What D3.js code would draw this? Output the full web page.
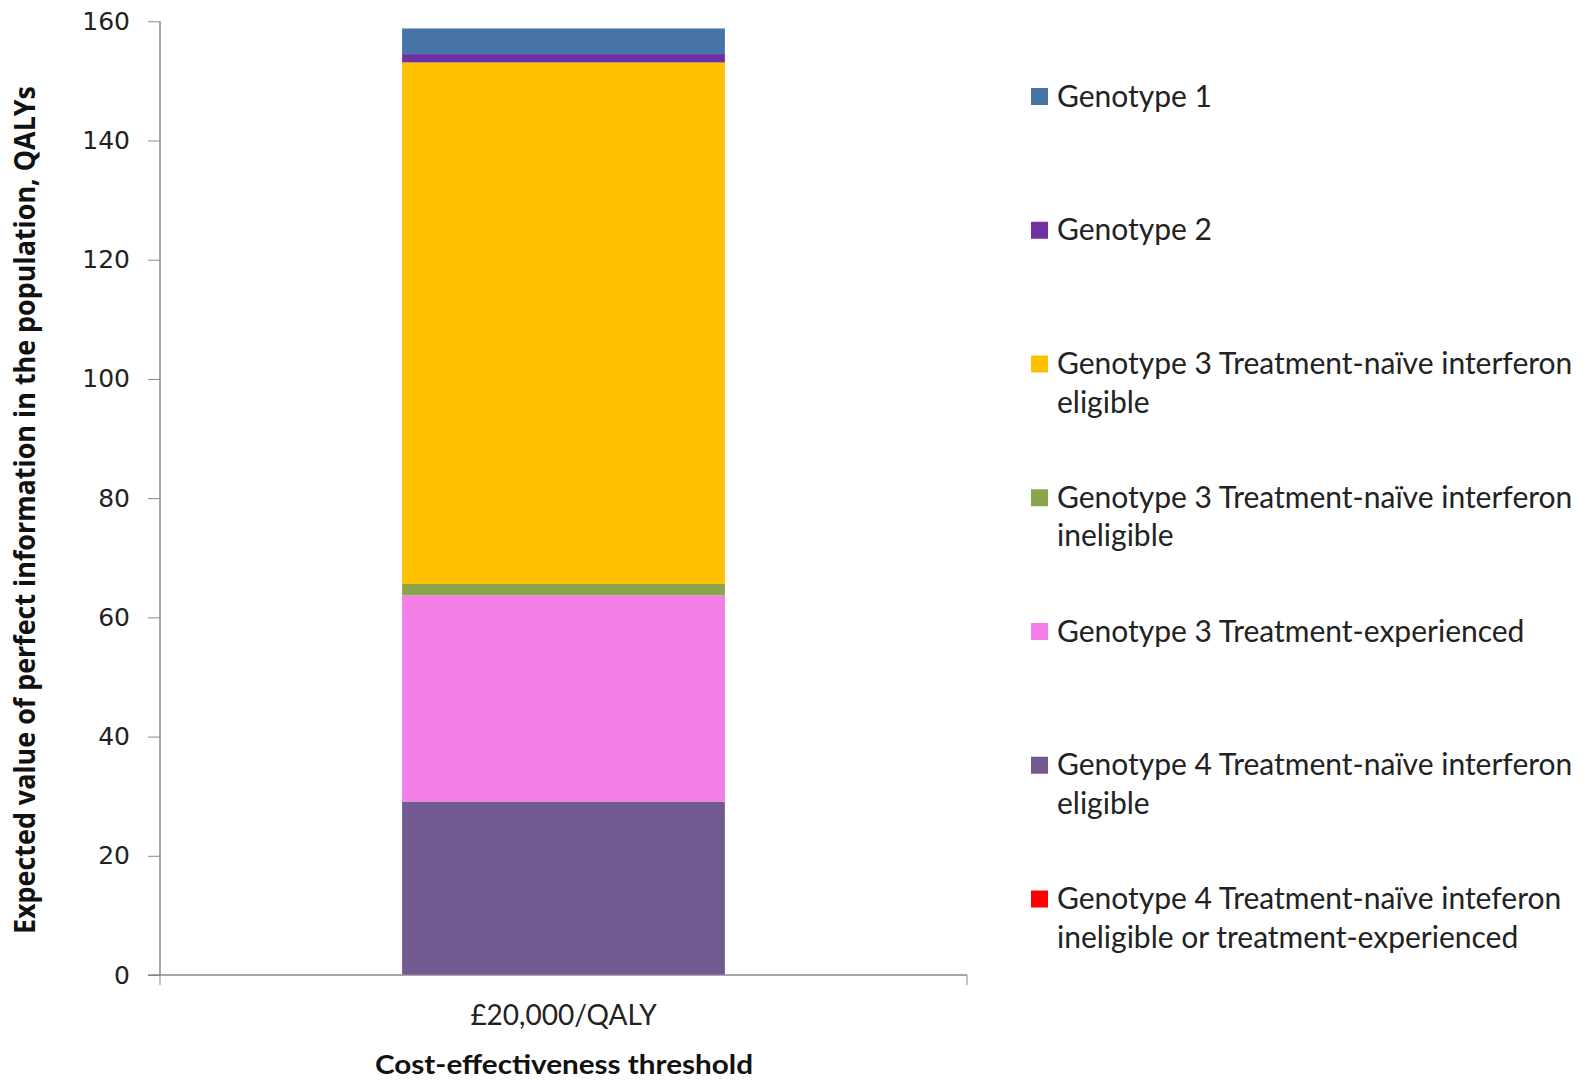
<!DOCTYPE html>
<html>
<head>
<meta charset="utf-8">
<script src="https://cdn.jsdelivr.net/npm/d3@7"></script>
<style>
  body { margin: 0; background: #fff; }
  svg { display: block; }
</style>
</head>
<body>
<div id="chart"></div>
<script>
// Data (stack order: bottom to top)
var categories = ['£20,000/QALY'];
var series_names = [
	'Genotype 4 Treatment-naïve inteferon ineligible or treatment-experienced',
	'Genotype 4 Treatment-naïve interferon eligible',
	'Genotype 3 Treatment-experienced',
	'Genotype 3 Treatment-naïve interferon ineligible',
	'Genotype 3 Treatment-naïve interferon eligible',
	'Genotype 2',
	'Genotype 1'
];
var series_values = [0, 29.1, 34.6, 1.9, 87.5, 1.4, 4.3];
var series_colors = ['#ff0000', '#725a90', '#f27ee6', '#8aa54c', '#ffc000', '#7030a0', '#4674a8'];
var y_ticks = [0, 20, 40, 60, 80, 100, 120, 140, 160];

// legend rows, top to bottom, with wrapped lines
var legend_lines = [
	['Genotype 1'],
	['Genotype 2'],
	['Genotype 3 Treatment-naïve interferon', 'eligible'],
	['Genotype 3 Treatment-naïve interferon', 'ineligible'],
	['Genotype 3 Treatment-experienced'],
	['Genotype 4 Treatment-naïve interferon', 'eligible'],
	['Genotype 4 Treatment-naïve inteferon', 'ineligible or treatment-experienced']
];

var width  = 1593;
var height = 1080;
var left   = 160;
var right  = 967;
var top_y  = 21.3;
var bottom = 975;

var svg = d3.select('#chart')
			.append('svg')
			.attr('width', width)
			.attr('height', height);

var x_scale = d3.scaleBand()
				.domain(categories)
				.range([left, right])
				.paddingInner(0.6)
				.paddingOuter(0.3);

var y_scale = d3.scaleLinear()
				.domain([0, 160])
				.range([bottom, top_y]);

// stack the single column
var row = { cat: categories[0] };
series_names.forEach(function(n, i) { row[n] = series_values[i]; });
var stacked = d3.stack().keys(series_names)([row]);

svg.append('g')
	.selectAll('rect')
	.data(stacked)
	.enter()
	.append('rect')
	.attr('x', function(d) { return x_scale(d[0].data.cat); })
	.attr('width', x_scale.bandwidth())
	.attr('y', function(d) { return y_scale(d[0][1]); })
	.attr('height', function(d) { return y_scale(d[0][0]) - y_scale(d[0][1]); })
	.attr('fill', function(d, i) { return series_colors[i]; });

// axes
var y_axis = d3.axisLeft(y_scale)
			   .tickValues(y_ticks)
			   .tickSize(12)
			   .tickPadding(18);

var gy = svg.append('g')
	.attr('transform', 'translate(' + left + ',0)')
	.call(y_axis);
gy.selectAll('text')
	.attr('font-family', 'Verdana, "DejaVu Sans", sans-serif')
	.attr('font-size', 25)
	.attr('fill', '#222');

var x_axis = d3.axisBottom(x_scale)
			.tickSize(0)
			.tickPadding(30);

var gx = svg.append('g')
	.attr('transform', 'translate(0,' + bottom + ')')
	.call(x_axis);
gx.selectAll('text')
	.attr('font-family', 'Lato, "Open Sans", sans-serif')
	.attr('font-size', 28)
	.attr('fill', '#222');

// outer ticks at both ends of the category axis
gx.selectAll('.edge')
	.data([left, right])
	.enter()
	.append('line')
	.attr('x1', function(d) { return d; })
	.attr('x2', function(d) { return d; })
	.attr('y1', 0)
	.attr('y2', 10)
	.attr('stroke', '#888');

svg.selectAll('.domain').attr('stroke', '#888').attr('stroke-width', 1.5);
gy.selectAll('.tick line').attr('stroke', '#888');

gy.select('.domain').attr('d', 'M0,' + top_y + 'V' + bottom);
gx.select('.domain').attr('d', 'M' + (left - 12) + ',0H' + right);

// axis titles
svg.append('text')
	.attr('transform', 'translate(35,' + 510 + ') rotate(-90)')
	.attr('text-anchor', 'middle')
	.attr('font-family', '"Liberation Sans Narrow", "Open Sans", sans-serif')
	.attr('font-weight', 'bold')
	.attr('font-size', 29)
	.attr('textLength', 848)
	.attr('lengthAdjust', 'spacingAndGlyphs')
	.attr('fill', '#111')
	.text('Expected value of perfect information in the population, QALYs');

svg.append('text')
	.attr('x', 564)
	.attr('y', 1074)
	.attr('text-anchor', 'middle')
	.attr('font-family', 'Lato, "Open Sans", sans-serif')
	.attr('font-weight', 'bold')
	.attr('font-size', 27)
	.attr('textLength', 378)
	.attr('lengthAdjust', 'spacingAndGlyphs')
	.attr('fill', '#111')
	.text('Cost-effectiveness threshold');

// legend
var legend_colors = series_colors.slice().reverse();
var leg_y = d3.scaleLinear().domain([0, 6]).range([96.5, 899]);

var leg = svg.append('g')
	.selectAll('g')
	.data(legend_lines)
	.enter()
	.append('g')
	.attr('transform', function(d, i) { return 'translate(1031,' + leg_y(i) + ')'; });

leg.append('rect')
	.attr('x', 0)
	.attr('y', -8.5)
	.attr('width', 17)
	.attr('height', 17)
	.attr('fill', function(d, i) { return legend_colors[i]; });

leg.append('text')
	.attr('font-family', 'Lato, "Open Sans", sans-serif')
	.attr('font-size', 30)
	.attr('fill', '#222')
	.selectAll('tspan')
	.data(function(d) { return d; })
	.enter()
	.append('tspan')
	.attr('x', 26)
	.attr('y', function(d, j) { return 10 + j * 38.6; })
	.text(function(d) { return d; });
</script>
</body>
</html>
